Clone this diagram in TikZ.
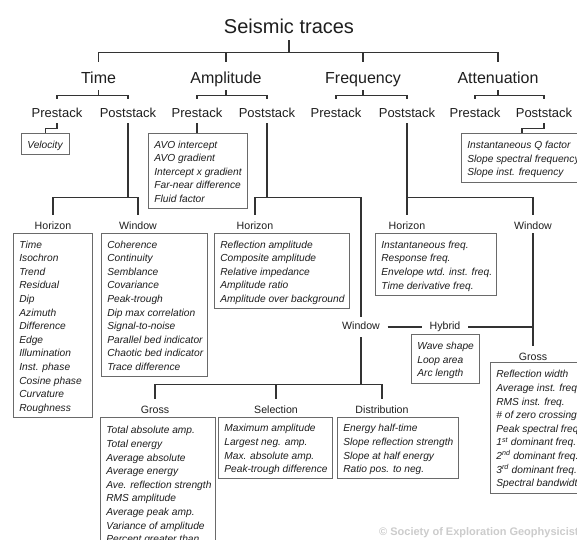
\documentclass[tikz,border=0pt]{standalone}
\usepackage{fontspec}
\setmainfont{Liberation Sans}
\definecolor{txt}{HTML}{1E1E1E}
\definecolor{lncol}{HTML}{333333}
\definecolor{boxcol}{HTML}{6A6A6A}
\newcommand{\itemlist}[2]{\makebox[#1][l]{\begin{tabular}{@{}l@{}}\rule{0pt}{12.8pt}#2\end{tabular}}}
\tikzset{
  lbl/.style={inner sep=0pt, anchor=base, text=txt},
  lvltwo/.style={lbl, font=\fontsize{16}{19}\selectfont, text height=21pt, text depth=7pt},
  lvlthree/.style={lbl, font=\fontsize{13}{16}\selectfont, text height=18pt, text depth=6pt},
  lvlfour/.style={lbl, font=\fontsize{10.6}{13}\selectfont, text height=14.5pt, text depth=3.5pt},
  lvlfourb/.style={lvlfour, text height=12pt, text depth=8pt, inner xsep=7.5pt},
  conn/.style={draw=lncol, line width=1.1pt},
  listbox/.style={draw=boxcol, line width=0.7pt, anchor=north west, inner xsep=6pt, inner ysep=0pt,
    font=\itshape\fontsize{10.2}{13.6}\selectfont, text=txt},
}
\begin{document}
\begin{tikzpicture}[x=1pt,y=-1pt]
\useasboundingbox (0,0) rectangle (577,539);
\fill[white] (0,0) rectangle (577,539);
\clip (0,0) rectangle (577,539);

% watermark
\node[anchor=west, inner sep=0pt, font=\bfseries\fontsize{11}{13}\selectfont, text=black!20] (wm) at (379,533) {© Society of Exploration Geophysicists};

% title and first level
\node[lbl, font=\fontsize{20}{24}\selectfont, text height=16pt, text depth=7pt] (title) at (289,33) {Seismic traces};
\node[lvltwo] (time) at (98.5,83) {Time};
\node[lvltwo] (amp)  at (226,83) {Amplitude};
\node[lvltwo] (freq) at (363,83) {Frequency};
\node[lvltwo] (att)  at (498,83) {Attenuation};

% second level
\node[lvlthree] (tpre)   at (57,117)  {Prestack};
\node[lvlthree] (tpost)  at (128,117) {Poststack};
\node[lvlthree] (apre)   at (197,117) {Prestack};
\node[lvlthree] (apost)  at (267,117) {Poststack};
\node[lvlthree] (fpre)   at (336,117) {Prestack};
\node[lvlthree] (fpost)  at (407,117) {Poststack};
\node[lvlthree] (atpre)  at (475,117) {Prestack};
\node[lvlthree] (atpost) at (544,117) {Poststack};

% boxes under second level
\node[listbox, minimum height=21pt] (vel) at (21,133) {\itemlist{36pt}{Velocity}};
\node[listbox, minimum height=75pt] (avo) at (148,133) {\itemlist{87pt}{AVO intercept\\AVO gradient\\Intercept x gradient\\Far-near difference\\Fluid factor}};
\node[listbox, minimum height=49pt] (attb) at (461,133) {\itemlist{117pt}{Instantaneous Q factor\\Slope spectral frequency\\Slope inst. frequency}};

% third level labels
\node[lvlfour] (thor)  at (53,229.5)  {Horizon};
\node[lvlfour] (twin)  at (138,229.5) {Window};
\node[lvlfour] (ahor)  at (255,229.5) {Horizon};
\node[lvlfour] (fhor)  at (407,229.5) {Horizon};
\node[lvlfour] (fwin)  at (533,229.5) {Window};
\node[lvlfourb] (awin) at (361,329)   {Window};
\node[lvlfourb] (hyb)  at (445,329)   {Hybrid};
\node[lvlfour] (fgross) at (533,360.5) {Gross};
\node[lvlfour] (agross) at (155,413.5) {Gross};
\node[lvlfour] (asel)   at (276,413.5) {Selection};
\node[lvlfour] (adist)  at (382,413.5) {Distribution};

% list boxes
\node[listbox, minimum height=184pt] (thbox) at (13,233) {\itemlist{67pt}{Time\\Isochron\\Trend\\Residual\\Dip\\Azimuth\\Difference\\Edge\\Illumination\\Inst. phase\\Cosine phase\\Curvature\\Roughness}};
\node[listbox, minimum height=143pt] (twbox) at (101,233) {\itemlist{94pt}{Coherence\\Continuity\\Semblance\\Covariance\\Peak-trough\\Dip max correlation\\Signal-to-noise\\Parallel bed indicator\\Chaotic bed indicator\\Trace difference}};
\node[listbox, minimum height=75pt] (ahbox) at (214,233) {\itemlist{123pt}{Reflection amplitude\\Composite amplitude\\Relative impedance\\Amplitude ratio\\Amplitude over background}};
\node[listbox, minimum height=62pt] (fhbox) at (375,233) {\itemlist{109pt}{Instantaneous freq.\\Response freq.\\Envelope wtd. inst. freq.\\Time derivative freq.}};
\node[listbox, minimum height=49pt] (hybox) at (411,334) {\itemlist{56pt}{Wave shape\\Loop area\\Arc length}};
\node[listbox, minimum height=131pt] (fgbox) at (490,362) {\itemlist{98pt}{Reflection width\\Average inst. freq.\\RMS inst. freq.\\\# of zero crossings\\Peak spectral freq.\\1\textsuperscript{st} dominant freq.\\2\textsuperscript{nd} dominant freq.\\3\textsuperscript{rd} dominant freq.\\Spectral bandwidth}};
\node[listbox, minimum height=133pt] (agbox) at (100,417) {\itemlist{103pt}{Total absolute amp.\\Total energy\\Average absolute\\Average energy\\Ave. reflection strength\\RMS amplitude\\Average peak amp.\\Variance of amplitude\\Percent greater than}};
\node[listbox, minimum height=61pt] (selbox) at (218,417) {\itemlist{102pt}{Maximum amplitude\\Largest neg. amp.\\Max. absolute amp.\\Peak-trough difference}};
\node[listbox, minimum height=61pt] (distbox) at (337,417) {\itemlist{109pt}{Energy half-time\\Slope reflection strength\\Slope at half energy\\Ratio pos. to neg.}};

% connectors: top
\draw[conn] (title.south) -- ++(0,12) coordinate (b0);
\draw[conn] (time.north) |- (b0) -| (att.north);
\draw[conn] (amp.north) -- (amp.north |- b0);
\draw[conn] (freq.north) -- (freq.north |- b0);

% first to second level
\draw[conn] (time.south) -- ++(0,5) coordinate (tb);
\draw[conn] (tpre.north) |- (tb) -| (tpost.north);
\draw[conn] (amp.south) -- ++(0,5) coordinate (ab);
\draw[conn] (apre.north) |- (ab) -| (apost.north);
\draw[conn] (freq.south) -- ++(0,5) coordinate (fb);
\draw[conn] (fpre.north) |- (fb) -| (fpost.north);
\draw[conn] (att.south) -- ++(0,5) coordinate (atb);
\draw[conn] (atpre.north) |- (atb) -| (atpost.north);

% second level to boxes
\draw[conn] (tpre.south) -- ++(0,5) -| (vel.north);
\draw[conn] (apre.south) -- (apre.south |- avo.north);
\draw[conn] (atpost.south) -- ++(0,5) -| ([xshift=61pt]attb.north west);

% poststack branches
\draw[conn] (tpost.south) -- ++(0,74) coordinate (tj);
\draw[conn] (thor.north) |- (tj) -| (twin.north);
\draw[conn] (apost.south) -- ++(0,74) coordinate (aj);
\draw[conn] (ahor.north) |- (aj) -| (awin.north);
\draw[conn] (fpost.south) -- (fhor.north);
\path (fpost.south) ++(0,74) coordinate (fj);
\draw[conn] (fj) -| (fwin.north);
\draw[conn] (fwin.south) -- (fgross.north);

% hybrid
\draw[conn] (awin.east) -- (hyb.west);
\draw[conn] (hyb.east) -- (hyb.east -| fwin.south);

% amplitude window children
\draw[conn] (awin.south) -- ++(0,47) coordinate (wj);
\draw[conn] (agross.north) |- (wj) -| (adist.north);
\draw[conn] (asel.north) -- (asel.north |- wj);
\end{tikzpicture}
\end{document}
